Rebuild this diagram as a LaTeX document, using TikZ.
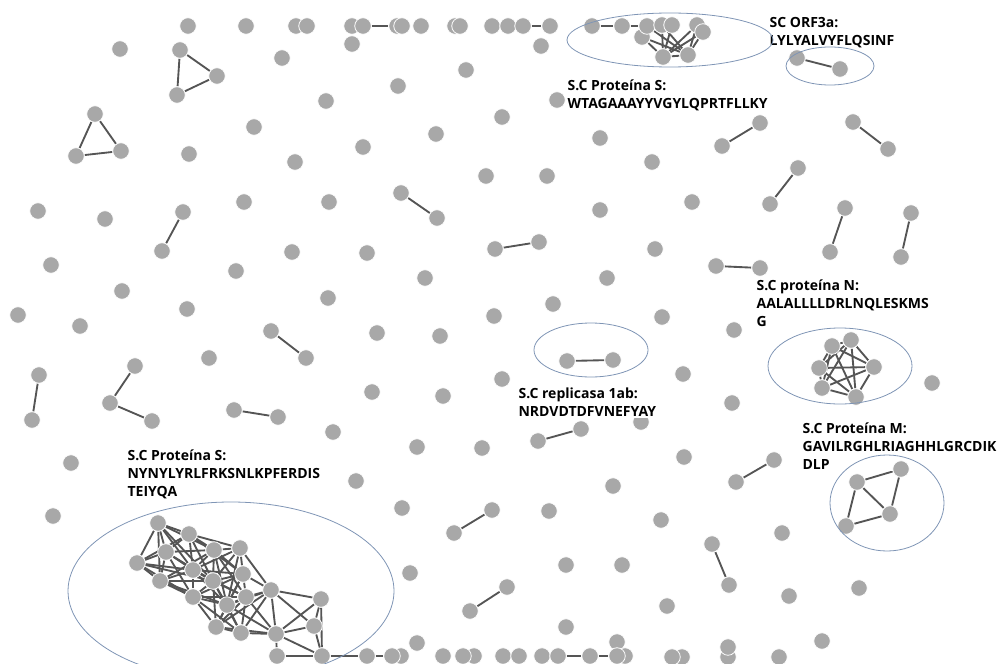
\documentclass[tikz,border=0pt]{standalone}
\usepackage{fontspec}
\setmainfont{Open Sans}
\usetikzlibrary{backgrounds}

\begin{document}
\begin{tikzpicture}[x=0.75pt, y=-0.75pt,
  dot/.style={circle, fill=nodegray, draw=white, line width=0.6pt, minimum size=12.4pt, inner sep=0pt},
  link/.style={draw=linkgray, line width=1.4pt},
  hull/.style={draw=hullblue, line width=0.6pt},
  tag/.style={anchor=north west, align=left, fill=white, inner sep=1pt, font=\fontsize{10.5}{13.5}\selectfont\bfseries}]
  \definecolor{nodegray}{HTML}{A8A8A8}
  \definecolor{linkgray}{HTML}{555555}
  \definecolor{hullblue}{HTML}{7F95B5}

  \useasboundingbox (0,0) rectangle (998,663);

  % loose nodes
  \foreach \x/\y [count=\i] in {120/49, 282/58, 326/101, 254/127, 189/154, 295/162, 38/211, 105/219, 244/202, 329/202,
      352/44, 541/46, 466/70, 398/86, 557/100, 502/117, 436/134, 363/147, 600/138, 652/162, 486/176, 547/176, 600/210, 692/202,
      51/265, 236/271, 292/252, 122/291, 18/315, 80/326, 187/309, 328/298, 209/358, 333/432,
      367/253, 655/249, 425/278, 607/278, 553/304, 494/316, 662/317, 377/333, 440/336, 502/379, 372/392, 443/396, 641/422, 417/447, 482/448,
      734/330, 683/374, 732/403, 932/383, 684/457, 71/463, 53/516,
      356/481, 402/508, 549/511, 613/486, 661/520, 410/573, 566/565, 622/565, 667/606, 566/627, 417/643, 617/642, 782/533, 789/596, 859/588, 822/641}
    \node[dot] (s\i) at (\x,\y) {};

  % top and bottom rows
  \foreach \n/\x/\y in {r1/188/26, r2/246/26, r3/296/26, r4/307/26, r5/352/26, r6/363/26, r7/397/26, r8/402/26, r9/421/26,
      r10/455/26, r11/460/26, r12/492/26, r13/508/26, r14/523/26, r15/550/26,
      w1/367/656, w2/401/656, w3/392/656, w4/474/656, w5/443/656, w6/463/656, w7/503/656, w8/519/656, w9/542/656,
      w10/558/656, w11/590/656, w12/625/656, w13/617/656, w14/682/657, w15/672/657, w16/728/657, w17/728/647, w18/779/657}
    \node[dot] (\n) at (\x,\y) {};

  % pairs and small groups
  \foreach \n/\x/\y in {a1/180/50, a2/217/76, a3/177/95, b1/95/114, b2/76/156, b3/121/151,
      p1/183/212, p2/162/251, p3/401/193, p4/437/218, p5/760/123, p6/722/146, p7/853/122, p8/888/149,
      p9/798/168, p10/770/204, p11/845/208, p12/830/252, p13/911/213, p14/901/257, p15/271/331, p16/306/358,
      p17/39/375, p18/32/420, p19/135/366, p20/110/403, p21/152/421, p22/234/410, p23/278/417,
      p24/495/249, p25/539/242, p26/716/266, p27/760/268, p28/538/441, p29/581/429, p30/454/533, p31/492/510,
      p32/470/611, p33/507/587, p34/736/482, p35/774/460, p36/712/544, p37/729/585}
    \node[dot] (\n) at (\x,\y) {};

  % marked clusters
  \foreach \n/\x/\y in {t1/592/26, t2/622/26, t8/642/37, t3/647/26, t4/662/25, t5/672/25, t6/697/25, t7/703/32, t9/663/57, t10/688/55,
      o1/797/58, o2/840/69, q1/567/361, q2/613/360,
      n1/832/346, n2/851/340, n3/819/368, n4/874/367, n5/822/388, n6/856/397,
      gA/158/523, gB/189/534, gC/166/552, gD/214/550, gE/240/548, gF/137/563, gG/193/570, gH/243/574, gI/160/581,
      gJ/213/581, gK/271/590, gL/321/599, gM/193/597, gN/246/597, gO/227/605, gP/314/626, gQ/216/627, gR/241/633,
      gS/276/634, gT/277/656, gU/322/656}
    \node[dot] (\n) at (\x,\y) {};

  \node[tag] (labS1) at (566,78) {S.C Proteína S:\\WTAGAAAYYVGYLQPRTFLLKY};
  \node[tag] (labORF) at (768,16) {SC ORF3a:\\LYLYALVYFLQSINF};
  \node[tag] (labR) at (517,386) {S.C replicasa 1ab:\\NRDVDTDFVNEFYAY};
  \node[tag] (labN) at (755,278) {S.C proteína N:\\AALALLLLDRLNQLESKMS\\G};
  \node[tag] (labM) at (801,421) {S.C Proteína M:\\GAVILRGHLRIAGHHLGRCDIK\\DLP};
  \node[tag] (labS2) at (126,448) {S.C Proteína S:\\NYNYLYRLFRKSNLKPFERDIS\\TEIYQA};

  % M cluster sits over its label
  \foreach \n/\x/\y in {m1/857/482, m2/901/469, m3/890/514, m4/846/526}
    \node[dot] (\n) at (\x,\y) {};

  \begin{pgfonlayer}{background}
    \foreach \a/\b in {r6/r7, r14/r15, w1/w3, w10/w11, w11/w13, gU/w1,
        a1/a2, a2/a3, a3/a1, b1/b2, b2/b3, b3/b1,
        p1/p2, p3/p4, p5/p6, p7/p8, p9/p10, p11/p12, p13/p14, p15/p16, p17/p18, p19/p20, p20/p21, p22/p23,
        p24/p25, p26/p27, p28/p29, p30/p31, p32/p33, p34/p35, p36/p37,
        t1/t2, t2/t3, t8/t9, t8/t10, t4/t10, t5/t9, t6/t9, t7/t10, t9/t10, t4/t9, t7/t9, t3/t10, t6/t10,
        o1/o2, q1/q2,
        n1/n2, n1/n3, n1/n4, n1/n5, n1/n6, n2/n3, n2/n4, n2/n5, n2/n6, n3/n4, n3/n5, n3/n6, n4/n5, n4/n6, n5/n6,
        m1/m2, m1/m3, m1/m4, m2/m3, m3/m4}
      \draw[link] (\a) -- (\b);
    \foreach \a/\b in {A/B, A/C, A/F, A/G, A/D, A/J, A/I, B/D, B/E, B/C, B/G, B/J, B/F, B/H,
        C/F, C/I, C/G, C/D, C/J, C/M, D/E, D/G, D/H, D/J, D/N, D/I, D/O, E/H, E/K, E/J, E/G, E/O,
        F/I, F/G, F/J, F/M, G/I, G/J, G/M, G/H, G/O, G/N, H/J, H/K, H/N, H/O, H/M, H/Q,
        I/M, I/J, I/O, J/M, J/N, J/O, J/Q, J/R, K/L, K/N, K/O, K/P, K/S, K/R, K/Q,
        L/P, L/U, L/S, M/O, M/Q, M/R, M/N, N/O, N/R, N/S, N/Q, O/Q, O/R, O/S,
        P/U, P/S, Q/R, Q/S, R/S, S/U, S/T, T/U}
      \draw[link] (g\a) -- (g\b);
  \end{pgfonlayer}

  \draw[hull] (670,40) ellipse [x radius=103, y radius=27];
  \draw[hull] (830,66) ellipse [x radius=44, y radius=19];
  \draw[hull] (591,350) ellipse [x radius=57, y radius=27];
  \draw[hull] (840,366) ellipse [x radius=72, y radius=38];
  \draw[hull] (887,503) ellipse [x radius=57, y radius=48];
  \draw[hull] (231,591) ellipse [x radius=163, y radius=89];
\end{tikzpicture}
\end{document}
